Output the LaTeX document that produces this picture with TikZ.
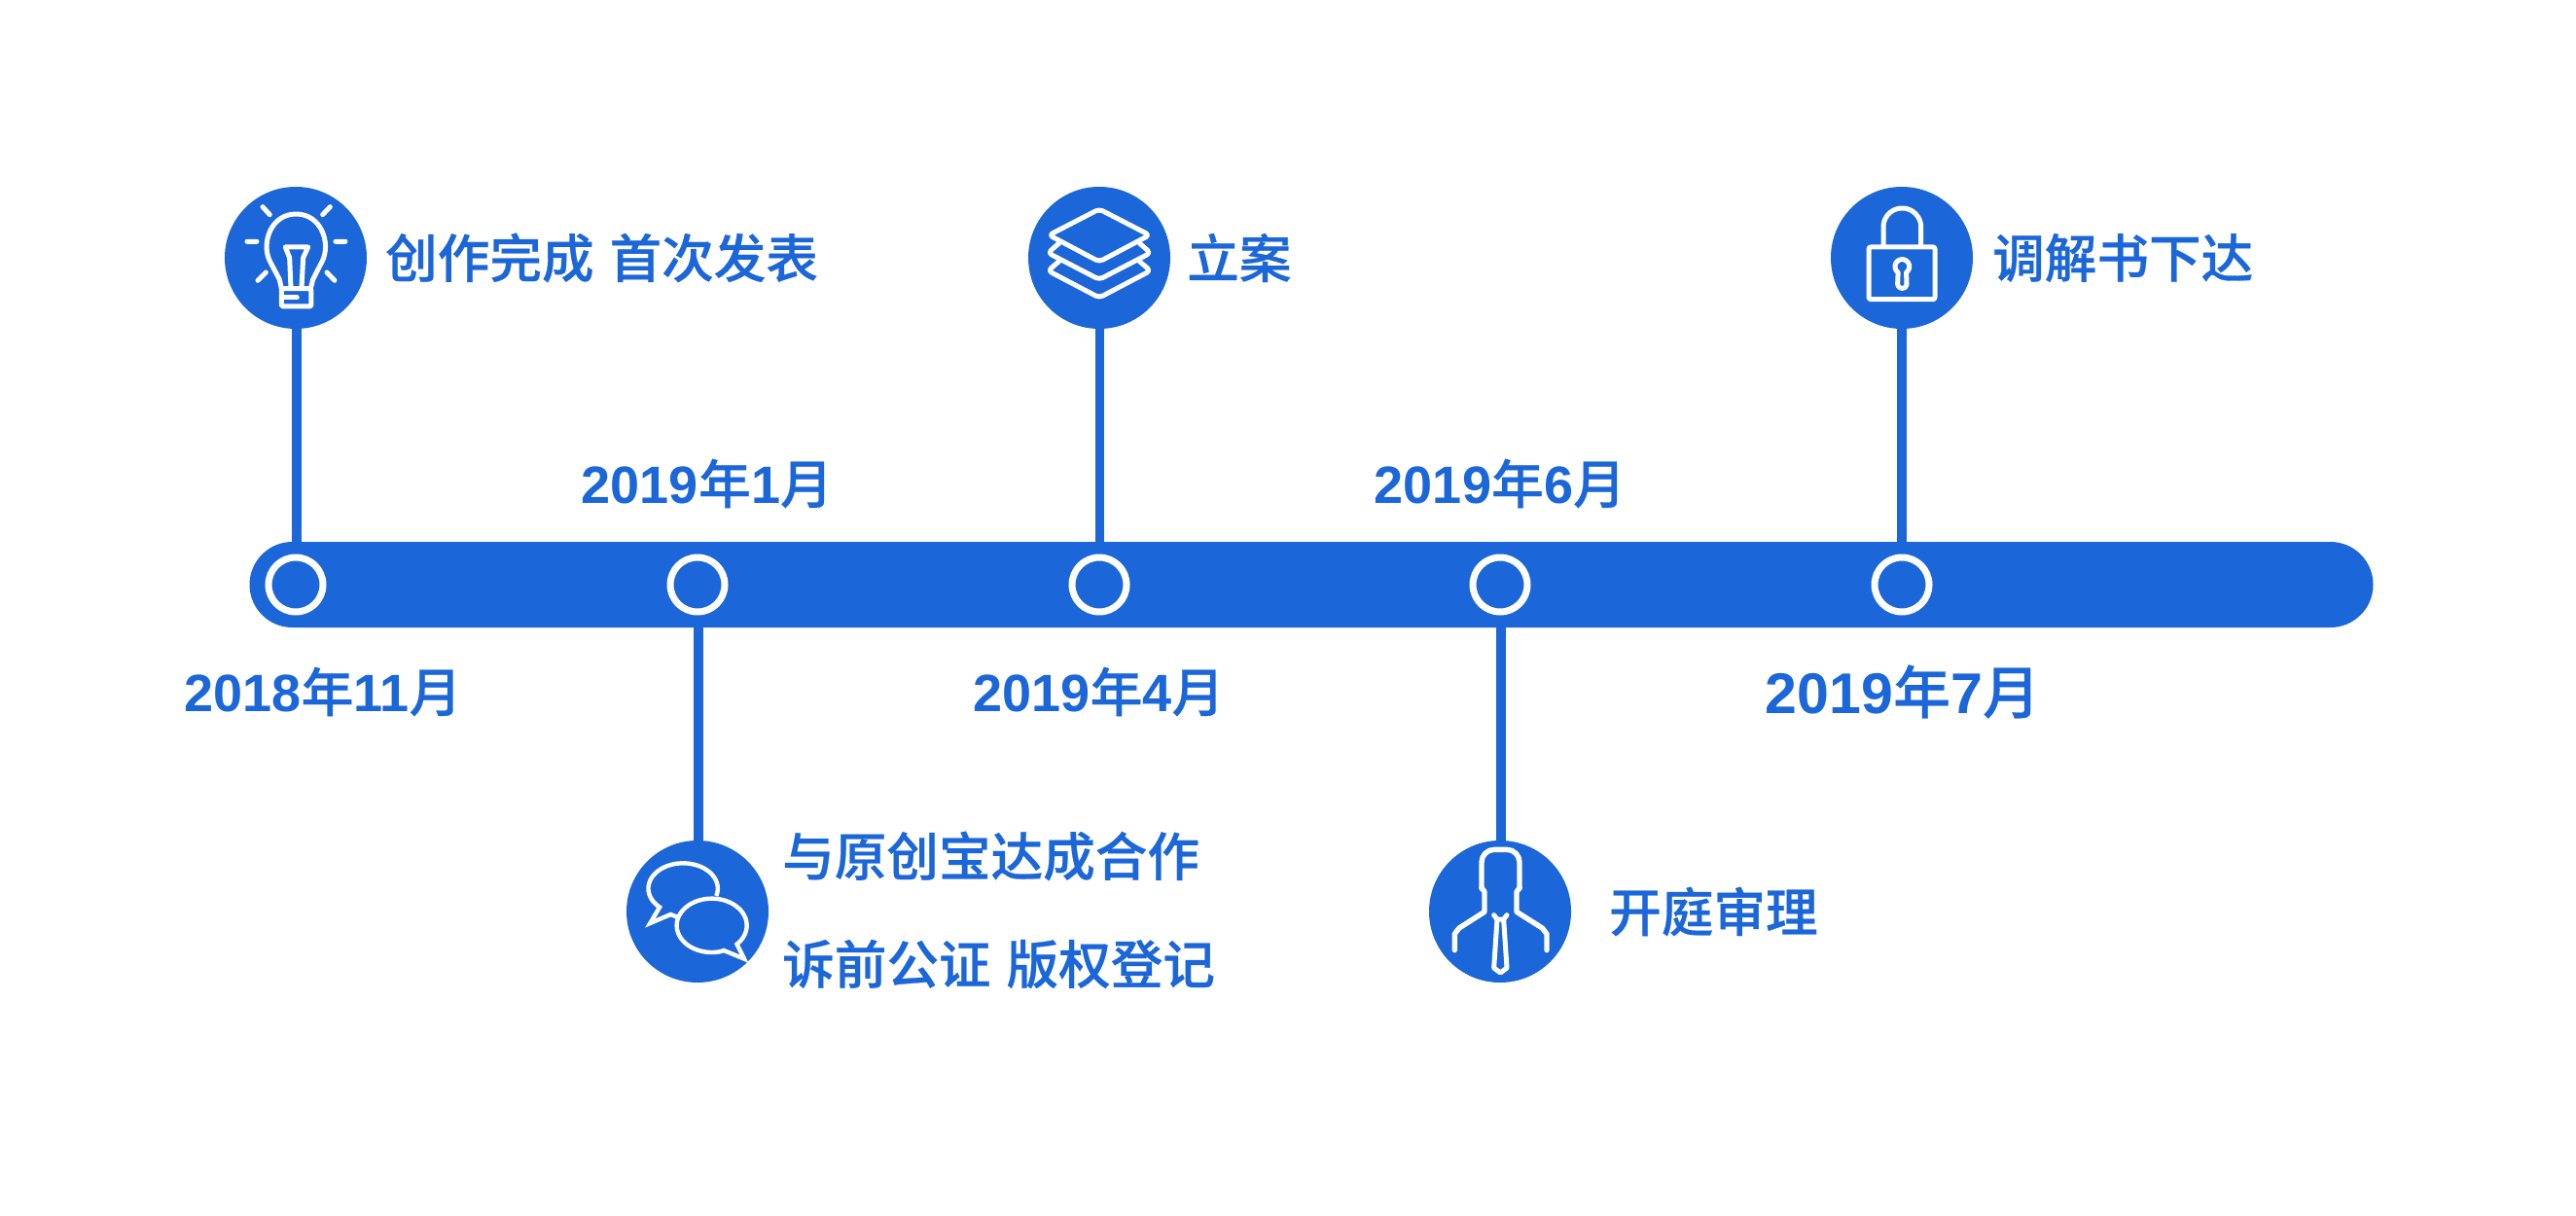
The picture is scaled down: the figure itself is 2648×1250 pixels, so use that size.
\documentclass[tikz,border=0pt]{standalone}
\usepackage{fontspec}
\setmainfont{Liberation Sans}
\newfontfamily\cjk[FakeBold=0.5]{Noto Sans CJK SC Medium}
\definecolor{tl}{HTML}{1B66D8}
\newcommand{\zh}[1]{{\mdseries\cjk #1}}
\tikzset{
  x=1pt,y=-1pt,
  hub/.style={circle,fill=tl,minimum size=146pt,inner sep=0pt,outer sep=0pt},
  ringn/.style={circle,draw=white,line width=7pt,fill=tl,minimum size=56pt,inner sep=0pt,outer sep=3.5pt},
  conn/.style={draw=tl,line width=9.5pt},
  lab/.style={text=tl,anchor=west,inner sep=0pt,font=\fontsize{53.6}{54}\selectfont\cjk},
  dat/.style={text=tl,anchor=center,inner sep=0pt,font=\fontsize{54}{54}\selectfont\bfseries},
  ico/.style={draw=white,line width=5pt,line join=round,line cap=round},
  zm/.style={shift={(#1)},x=0.3333pt,y=-0.3333pt}
}
\begin{document}
\begin{tikzpicture}
\useasboundingbox[fill=white] (0,0) rectangle (2648,1250);
% bar
\node[fill=tl,rounded corners=44pt,minimum width=2183pt,minimum height=88pt,inner sep=0pt,outer sep=0pt] (bar) at (1348,601) {};
% hubs
\node[hub] (c1) at (304,265) {};
\node[hub] (c2) at (717,937) {};
\node[hub] (c3) at (1130,265) {};
\node[hub] (c4) at (1542,937) {};
\node[hub] (c5) at (1955,265) {};
% rings
\node[ringn] (r1) at (304,601) {};
\node[ringn] (r2) at (717,601) {};
\node[ringn] (r3) at (1130,601) {};
\node[ringn] (r4) at (1542,601) {};
\node[ringn] (r5) at (1955,601) {};
% connectors
\draw[conn] ([xshift=1pt]c1.south) -- ([xshift=1pt]c1.south |- bar.north);
\draw[conn] ([xshift=0.5pt]c3.south) -- ([xshift=0.5pt]c3.south |- bar.north);
\draw[conn] (c5.south) -- (c5.south |- bar.north);
\draw[conn] ([xshift=1pt]r2.south) -- ([xshift=1pt]c2.north);
\draw[conn] ([xshift=1pt]r4.south) -- ([xshift=1pt]c4.north);
% bulb
\begin{scope}[zm={200,170}]
\draw[ico] (210,128)--(232,152) (395,152)--(418,128) (162,235)--(192,235) (435,235)--(465,235) (195,355)--(220,330) (408,330)--(432,355);
\draw[ico] (268,380) -- (262,352) -- (232,295) .. controls (205,240) and (235,150) .. (313,150) .. controls (391,150) and (421,240) .. (394,295) -- (365,352) -- (358,380);
\draw[ico,rounded corners=1.5pt] (268,380) -- (268,435) -- (360,435) -- (360,380) -- cycle;
\draw[ico] (276,408) -- (316,408);
\draw[ico] (297,378) -- (293,285) -- (280,252) -- (350,252) -- (335,285) -- (330,378);
\end{scope}
% stack
\begin{scope}[zm={1040,170}]
\draw[ico,rounded corners=4pt] (270,135) -- (425,215) -- (270,297) -- (115,215) -- cycle;
\draw[ico,rounded corners=4pt] (146,240) -- (112,270) -- (270,352) -- (428,270) -- (394,240);
\draw[ico,rounded corners=4pt] (146,296) -- (112,325) -- (270,408) -- (428,325) -- (394,296);
\end{scope}
% lock
\begin{scope}[zm={1860,170}]
\draw[ico,rounded corners=2pt] (183,252) rectangle (387,413);
\draw[ico] (228,250) -- (228,190) -- plot[domain=180:360,samples=30] ({286+58*cos(\x)},{190+58*sin(\x)}) -- (344,250);
\draw[ico] plot[domain=235:-55,samples=40] ({286+22*cos(\x)},{312-22*sin(\x)}) -- (300,365) -- plot[domain=0:180,samples=15] ({286+14*cos(\x)},{365+14*sin(\x)}) -- cycle;
\end{scope}
% speech
\begin{scope}[zm={620,850}]
\draw[ico,line width=4.4pt,line join=miter,line cap=butt] plot[domain=17:-227.5,samples=70] ({246.5+107*cos(\x)},{190+78*sin(\x)}) -- (145,297) -- (208,270) -- (228,278);
\draw[ico,line width=4.4pt,line join=miter] plot[domain=44:-285,samples=80] ({335+108*cos(\x)},{304+83*sin(\x)}) -- (372,381) -- (435,407) -- cycle;
\end{scope}
% person
\begin{scope}[zm={1440,850}]
\draw[ico,line width=5.4pt,rounded corners=13pt] (249,190) -- (249,70) -- (366,70) -- (366,190);
\draw[ico,line width=5.4pt] (166,380) -- (166,330) -- (180,312) -- (258,262) -- (258,200) -- (249,188);
\draw[ico,line width=5.4pt] (450,380) -- (450,330) -- (436,312) -- (357,262) -- (357,200) -- (366,188);
\draw[ico] (287,272) -- (297,285) -- (317,285) -- (327,272);
\draw[ico] (297,285) -- (287,435) -- (307,450) -- (327,435) -- (317,285);
\end{scope}
% dates
\node[dat] (d1) at (332,711) {2018\zh{年}11\zh{月}};
\node[dat] (d2) at (727,497) {2019\zh{年}1\zh{月}};
\node[dat] (d3) at (1129.5,711) {2019\zh{年}4\zh{月}};
\node[dat] (d4) at (1542,497) {2019\zh{年}6\zh{月}};
\node[dat,font=\fontsize{59}{59}\selectfont\bfseries] (d5) at (1956,711) {2019\zh{年}7\zh{月}};
% labels
\node[lab] (t1) at (396,265) {创作完成\hspace{16pt}首次发表};
\node[lab] (t2) at (804,880) {与原创宝达成合作};
\node[lab] (t3) at (804,991) {诉前公证\hspace{16pt}版权登记};
\node[lab] (t4) at (1220,265) {立案};
\node[lab] (t5) at (1654,937) {开庭审理};
\node[lab] (t6) at (2048,265) {调解书下达};
\end{tikzpicture}
\end{document}
